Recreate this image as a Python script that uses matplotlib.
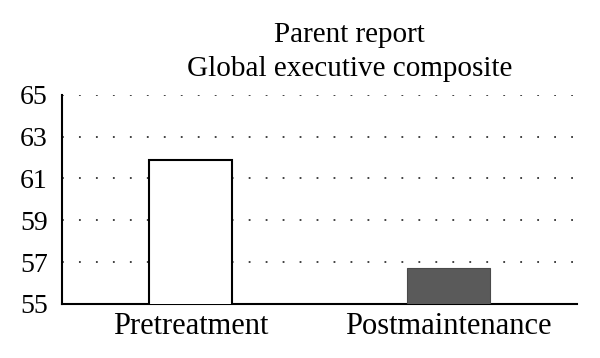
import matplotlib.pyplot as plt

categories = ["Pretreatment", "Postmaintenance"]
values = [61.9, 56.7]
yticks = [55, 57, 59, 61, 63, 65]
title_lines = ["Parent report", "Global executive composite"]

plt.rcParams['font.family'] = ['Liberation Serif', 'DejaVu Serif']

fig = plt.figure(figsize=(6, 3.58), dpi=100)
ax = fig.add_axes([0.103, 0.151, 0.859, 0.584])

x = range(len(categories))
ax.bar(x[0], values[0], width=0.32, bottom=0, color='white', edgecolor='black', linewidth=1.5, zorder=3)
ax.bar(x[1], values[1], width=0.32, bottom=0, color='#5a5a5a', edgecolor='#4a4a4a', linewidth=0.8, zorder=3)

ax.set_ylim(55, 65)
ax.set_xlim(-0.5, 1.5)
ax.set_yticks(yticks)
ax.set_xticks(list(x))
ax.set_xticklabels(categories, fontsize=22)
ax.tick_params(axis='y', labelsize=20, length=0, pad=10)
ax.tick_params(axis='x', length=0, pad=6)

ax.yaxis.grid(True, linestyle=(0, (1, 8.4)), color='#333333', linewidth=1.3)
ax.set_axisbelow(True)
for s in ['top', 'right']:
    ax.spines[s].set_visible(False)
ax.spines['left'].set_linewidth(1.5)
ax.spines['bottom'].set_linewidth(1.5)

# title, two centred lines
fig.text(0.583, 0.883, title_lines[0], fontsize=21, ha='center', va='baseline')
fig.text(0.583, 0.788, title_lines[1], fontsize=21, ha='center', va='baseline')

fig.savefig("out.png", dpi=100)
